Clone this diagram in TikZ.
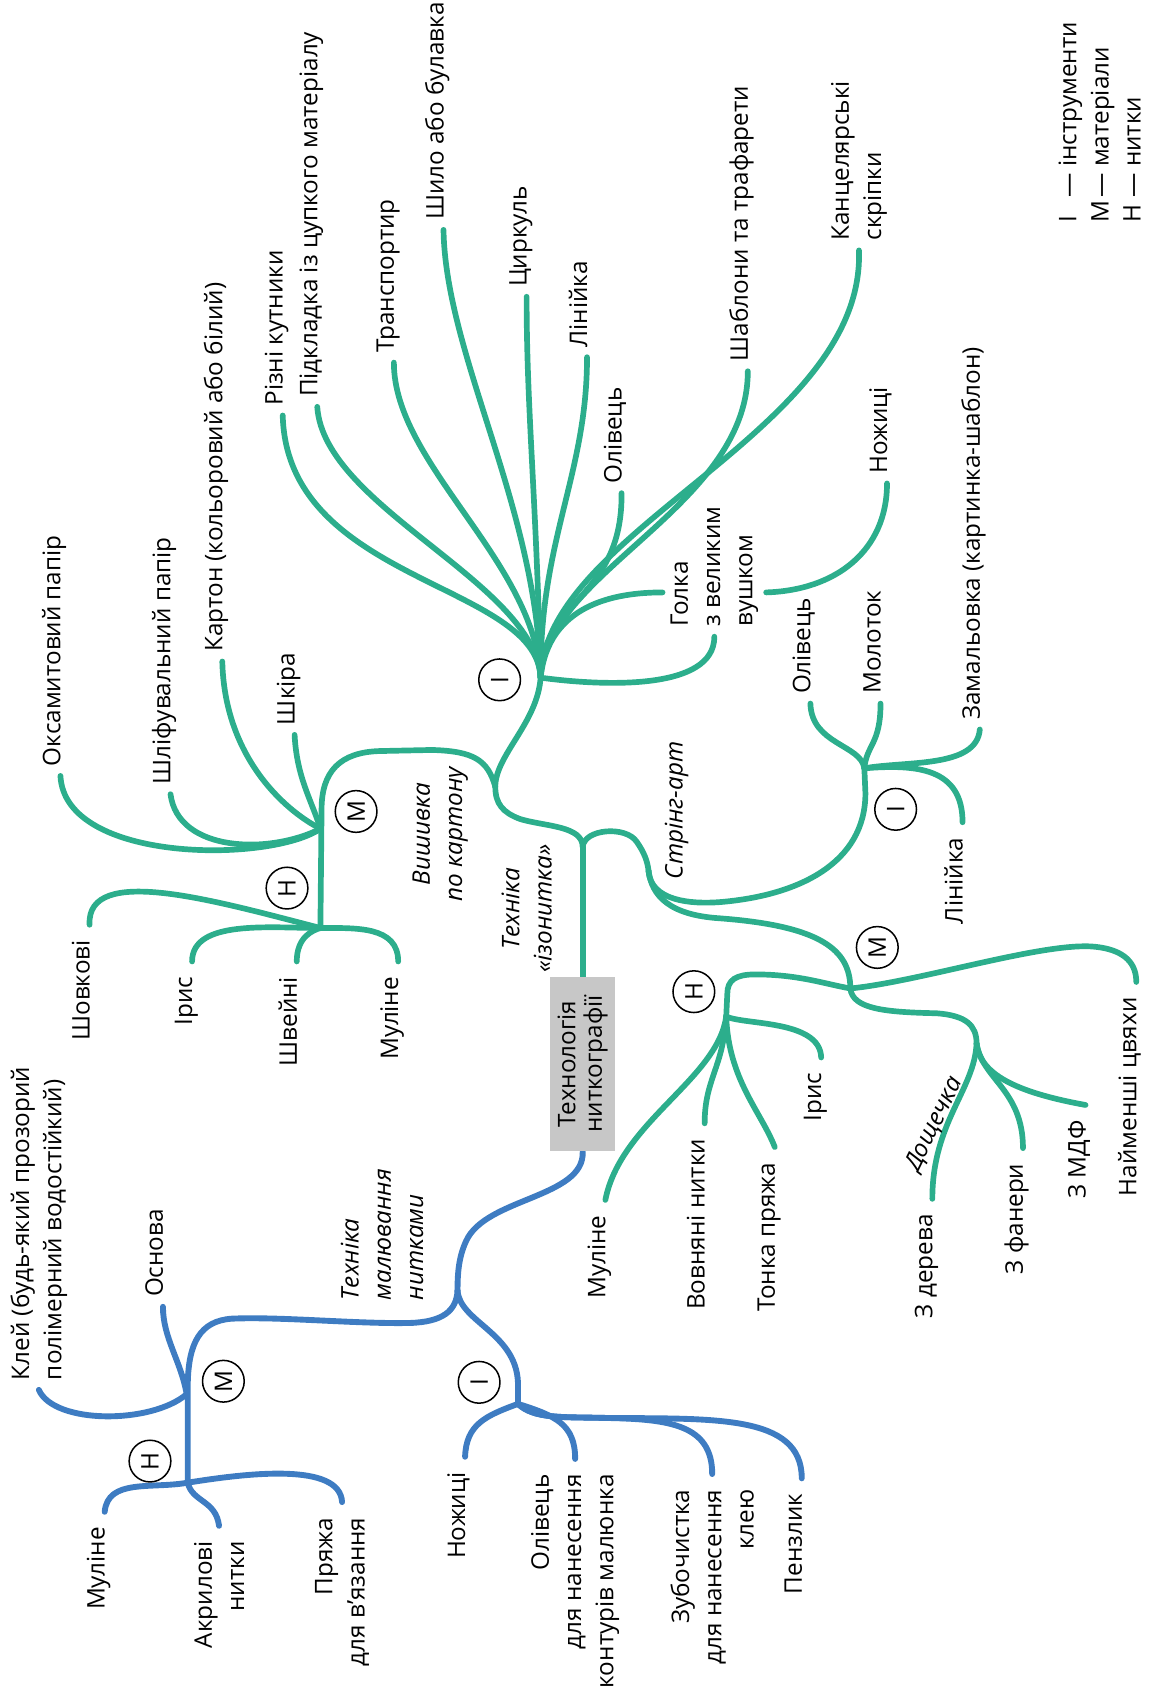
\documentclass[tikz,border=0pt]{standalone}
\usepackage{fontspec}
\setmainfont{Open Sans}
\usepackage{tikz}
\usetikzlibrary{backgrounds}

\definecolor{threadgreen}{RGB}{44,174,140}
\definecolor{threadblue}{RGB}{62,124,194}

\tikzset{
  gline/.style={threadgreen, line width=3pt, line cap=round},
  bline/.style={threadblue, line width=3.1pt, line cap=round},
  plain/.style={font=\fontsize{12.8}{17}\selectfont, inner ysep=1pt},
  txt/.style={plain, rotate=90},
  up/.style={txt, anchor=base west, inner xsep=5pt},
  down/.style={txt, anchor=base east, inner xsep=8pt},
  upblock/.style={txt, anchor=west, align=left, inner xsep=5pt},
  downblock/.style={txt, anchor=east, align=right, inner xsep=8pt},
  branch/.style={txt, font=\fontsize{12.8}{17}\selectfont\itshape},
  key/.style={circle, draw, line width=0.8pt, fill=white, minimum size=22pt,
    inner sep=0pt, rotate=90, font=\fontsize{12.8}{14}\selectfont},
}

\begin{document}
\begin{tikzpicture}[x=0.02cm, y=-0.02cm]
  \useasboundingbox (0,0) rectangle (1066,1568);

  % centre box
  \node[txt, fill=black!22, minimum width=92pt, minimum height=34pt, align=center,
    font=\fontsize{12.8}{14}\selectfont] (box) at (540,986) {Технологія\\ниткографії};

  % legend
  \node[txt, anchor=west, align=left, inner xsep=0pt] (legend) at (1019,207)
    {\makebox[1.05em][l]{І}— інструменти\\\makebox[1.05em][l]{М}— матеріали\\\makebox[1.05em][l]{Н}— нитки};

  % junctions
  \coordinate (izoSplit) at (540,785);
  \coordinate (vyshSplit) at (459,729);
  \coordinate (izoTools) at (501,628);
  \coordinate (vyshMat) at (298,750);
  \coordinate (vyshMatFan) at (297,768);
  \coordinate (vyshThr) at (297,852);
  \coordinate (vyshThrFan) at (297,860);
  \coordinate (strSplit) at (601,807);
  \coordinate (strTools) at (802,735);
  \coordinate (strToolsFan) at (801,712);
  \coordinate (strMat) at (788,916);
  \coordinate (strThr) at (674,921);
  \coordinate (strThrFan) at (673,942);
  \coordinate (board) at (905,967);
  \coordinate (malSplit) at (424,1196);
  \coordinate (malMat) at (174,1281);
  \coordinate (malMatFan) at (173,1292);
  \coordinate (malThr) at (174,1365);
  \coordinate (malThrFan) at (174,1374);
  \coordinate (malTools) at (480,1281);
  \coordinate (malToolsFan) at (480,1301);
  \coordinate (nozRow) at (0,549);

  % branch names
  \node[branch, align=center] (izo) at (488,842) {Техніка\\«ізонитка»};
  \node[branch, align=center] (vysh) at (408,773) {Вишивка\\по картону};
  \node[branch] (strn) at (627,751) {Стрінг-арт};
  \node[branch, anchor=west, align=left, inner xsep=1pt] (maln) at (354,1207) {Техніка\\малювання\\нитками};
  \node[plain, font=\fontsize{12.8}{17}\selectfont\itshape, rotate=64] (dosh) at (866,1042) {Дощечка};

  % izonytka: tools
  \node[up] (kut) at (262,385) {Різні кутники};
  \node[up] (pid) at (294,377) {Підкладка із цупкого матеріалу};
  \node[up] (tra) at (365,336) {Транспортир};
  \node[up] (shy) at (411,213) {Шило або булавка};
  \node[up] (cyr) at (488,275) {Циркуль};
  \node[up] (lin) at (544,331) {Лінійка};
  \node[up] (oli) at (576,457) {Олівець};
  \node[up] (sha) at (693,344) {Шаблони та трафарети};
  \node[upblock] (kan) at (796,232) {Канцелярські\\скріпки};
  \node[upblock, inner ysep=4pt] (golka) at (662,590) {Голка\\з великим\\вушком};
  \node[up] (noz) at (822,448) {Ножиці};

  % vyshyvka: materials and threads
  \node[up] (oks) at (56,719) {Оксамитовий папір};
  \node[up] (shl) at (158,736) {Шліфувальний папір};
  \node[up] (kar) at (206,613) {Картон (кольоровий або білий)};
  \node[up] (shk) at (273,681) {Шкіра};
  \node[down] (sho) at (83,857) {Шовкові};
  \node[down] (iri) at (178,891) {Ірис};
  \node[down] (shv) at (275,891) {Швейні};
  \node[down] (mul1) at (369,891) {Муліне};

  % string art
  \node[up] (oli2) at (751,652) {Олівець};
  \node[up] (mol) at (816,652) {Молоток};
  \node[up] (zam) at (908,676) {Замальовка (картинка-шаблон)};
  \node[down] (lin2) at (892,762) {Лінійка};
  \node[down] (nai) at (1053,910) {Найменші цвяхи};
  \node[down] (der) at (864,1111) {З дерева};
  \node[down] (fan) at (948,1064) {З фанери};
  \node[down] (mdf) at (1006,1024) {З МДФ};
  \node[down] (mul2) at (561,1112) {Муліне};
  \node[down] (vov) at (653,1041) {Вовняні нитки};
  \node[down] (ton) at (718,1063) {Тонка пряжа};
  \node[down] (iri2) at (761,980) {Ірис};

  % drawing with threads
  \node[upblock] (klei) at (36,1288) {Клей (будь-який прозорий\\полімерний водостійкий)};
  \node[up] (osn) at (151,1211) {Основа};
  \node[down] (mul3) at (97,1401) {Муліне};
  \node[downblock] (akr) at (203,1414) {Акрилові\\нитки};
  \node[downblock] (pry) at (317,1392) {Пряжа\\для в’язання};
  \node[down] (noz2) at (431,1350) {Ножиці};
  \node[downblock] (oli3) at (533,1352) {Олівець\\для нанесення\\контурів малюнка};
  \node[downblock] (zub) at (660,1366) {Зубочистка\\для нанесення\\клею};
  \node[down] (pen) at (743,1370) {Пензлик};

  % circled keys
  \node[key] (kI1) at (463,630) {І};
  \node[key] (kM1) at (330,752) {М};
  \node[key] (kH1) at (266,823) {Н};
  \node[key] (kI2) at (830,750) {І};
  \node[key] (kM2) at (813,878) {М};
  \node[key] (kH2) at (643,919) {Н};
  \node[key] (kM3) at (207,1280) {М};
  \node[key] (kH3) at (139,1354) {Н};
  \node[key] (kI3) at (444,1281) {І};

  \begin{scope}[on background layer]
    % izonytka trunk
    \draw[gline] (box.east) -- (izoSplit);
    \draw[gline] (izoSplit) .. controls (540,765) and (505,766) .. (482,759)
      .. controls (466,753) and (459,745) .. (vyshSplit);
    \draw[gline] (vyshSplit) .. controls (459,700) and (498,670) .. (izoTools);
    % tools fan
    \draw[gline] (izoTools) .. controls (498,540) and (266,540) .. (kut.base west);
    \draw[gline] (izoTools) .. controls (496,540) and (300,470) .. (pid.base west);
    \draw[gline] (izoTools) .. controls (496,520) and (365,430) .. (tra.base west);
    \draw[gline] (izoTools) .. controls (498,470) and (413,330) .. (shy.base west);
    \draw[gline] (izoTools) .. controls (497,460) and (488,380) .. (cyr.base west);
    \draw[gline] (izoTools) .. controls (500,500) and (544,440) .. (lin.base west);
    \draw[gline] (izoTools) .. controls (502,555) and (577,555) .. (oli.base west);
    \draw[gline] (izoTools) .. controls (505,530) and (693,470) .. (sha.base west);
    \draw[gline] (izoTools) .. controls (505,490) and (802,400) .. (kan.west);
    % scissors line runs on past the needle label
    \draw[gline] (izoTools) .. controls (508,560) and (570,549) .. (golka.north |- nozRow);
    \draw[gline] (golka.south |- nozRow) .. controls (775,547) and (822,510) .. (noz.base west);
    \draw[gline] (izoTools) .. controls (560,636) and (662,640) .. (golka.west);

    % vyshyvka
    \draw[gline] (vyshSplit) .. controls (452,705) and (440,696) .. (400,695) -- (352,696)
      .. controls (315,697) and (298,715) .. (vyshMat) -- (vyshThr) -- (vyshThrFan);
    \draw[gline] (vyshMatFan) .. controls (250,800) and (60,800) .. (oks.base west);
    \draw[gline] (vyshMatFan) .. controls (250,792) and (165,790) .. (shl.base west);
    \draw[gline] (vyshMatFan) .. controls (262,750) and (208,700) .. (kar.base west);
    \draw[gline] (vyshMatFan) .. controls (288,740) and (275,720) .. (shk.base west);
    \draw[gline] (vyshThrFan) .. controls (200,835) and (80,800) .. (sho.base east);
    \draw[gline] (vyshThrFan) .. controls (250,860) and (178,852) .. (iri.base east);
    \draw[gline] (vyshThrFan) .. controls (290,862) and (275,868) .. (shv.base east);
    \draw[gline] (vyshThrFan) .. controls (330,860) and (369,858) .. (mul1.base east);

    % string art
    \draw[gline] (izoSplit) .. controls (541,768) and (580,765) .. (590,780)
      .. controls (597,790) and (600,798) .. (strSplit);
    \draw[gline] (strSplit) .. controls (603,835) and (640,838) .. (667,836)
      .. controls (740,830) and (802,800) .. (strTools) -- (strToolsFan);
    \draw[gline] (strToolsFan) .. controls (798,690) and (752,690) .. (oli2.base west);
    \draw[gline] (strToolsFan) .. controls (803,690) and (816,690) .. (mol.base west);
    \draw[gline] (strToolsFan) .. controls (840,705) and (905,712) .. (zam.base west);
    \draw[gline] (strToolsFan) .. controls (850,708) and (892,712) .. (lin2.base east);
    \draw[gline] (strSplit) .. controls (604,830) and (620,848) .. (667,851)
      .. controls (760,858) and (788,880) .. (strMat);
    \draw[gline] (strThrFan) -- (strThr) .. controls (674,908) and (682,903) .. (700,903)
      .. controls (740,903) and (765,912) .. (strMat)
      .. controls (850,910) and (960,875) .. (1010,877)
      .. controls (1045,879) and (1053,895) .. (nai.base east);
    \draw[gline] (strMat) .. controls (790,935) and (820,938) .. (868,939)
      .. controls (895,941) and (905,950) .. (board);
    \draw[gline] (board) .. controls (903,1010) and (864,1040) .. (der.base east);
    \draw[gline] (board) .. controls (910,1000) and (948,1010) .. (fan.base east);
    \draw[gline] (board) .. controls (908,995) and (940,1012) .. (mdf.base east);
    \draw[gline] (strThrFan) .. controls (690,950) and (760,945) .. (iri2.base east);
    \draw[gline] (strThrFan) .. controls (675,1000) and (705,1030) .. (ton.base east);
    \draw[gline] (strThrFan) .. controls (670,990) and (653,1000) .. (vov.base east);
    \draw[gline] (strThrFan) .. controls (665,1000) and (575,1040) .. (mul2.base east);

    % drawing with threads
    \draw[bline] (box.west) .. controls (542,1110) and (450,1110) .. (432,1150)
      .. controls (425,1165) and (424,1180) .. (malSplit);
    \draw[bline] (malSplit) .. controls (423,1215) and (410,1225) .. (380,1226)
      .. controls (330,1227) and (260,1220) .. (215,1222)
      .. controls (185,1224) and (175,1245) .. (malMat) -- (malThr) -- (malThrFan);
    \draw[bline] (malMatFan) .. controls (140,1320) and (50,1320) .. (klei.west);
    \draw[bline] (malMatFan) .. controls (168,1262) and (151,1240) .. (osn.base west);
    \draw[bline] (malThrFan) .. controls (140,1380) and (100,1370) .. (mul3.base east);
    \draw[bline] (malThrFan) .. controls (178,1392) and (200,1390) .. (akr.east);
    \draw[bline] (malThrFan) .. controls (230,1365) and (315,1355) .. (pry.east);
    \draw[bline] (malSplit) .. controls (426,1225) and (478,1235) .. (malTools) -- (malToolsFan);
    \draw[bline] (malToolsFan) .. controls (450,1312) and (432,1320) .. (noz2.base east);
    \draw[bline] (malToolsFan) .. controls (515,1312) and (533,1320) .. (oli3.east);
    \draw[bline] (malToolsFan) .. controls (495,1315) and (520,1313) .. (560,1314)
      .. controls (620,1315) and (660,1320) .. (zub.east);
    \draw[bline] (malToolsFan) .. controls (495,1315) and (520,1313) .. (560,1314)
      .. controls (660,1315) and (743,1310) .. (pen.base east);
  \end{scope}
\end{tikzpicture}
\end{document}
